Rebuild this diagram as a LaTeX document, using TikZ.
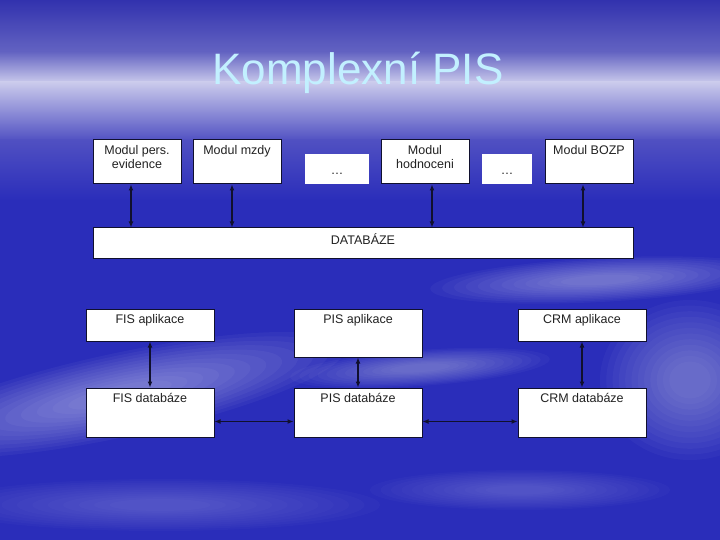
\documentclass[tikz,border=0pt]{standalone}
\usepackage{fontspec}
\setmainfont{Liberation Sans}
\usetikzlibrary{arrows.meta, positioning}
\definecolor{skytop}{HTML}{3232AE}
\definecolor{skymid}{HTML}{6464C2}
\definecolor{haze}{HTML}{CBCBEC}
\definecolor{skyblue}{HTML}{5050C2}
\definecolor{deepsky}{HTML}{2A2DBA}
\definecolor{titlecyan}{HTML}{C2F0FF}
\definecolor{boxline}{HTML}{10102E}
\definecolor{boxtext}{HTML}{222222}
% soft cloud streak: centre x, centre y, half width, half height, angle, strength
\newcommand\cloudstreak[6]{%
  \foreach \k in {1,0.93,...,0.2}
    \fill[white, opacity=#6, rotate around={#5:(#1,#2)}] (#1,#2) ellipse ({#3*\k} and {#4*\k});}

\begin{document}
\begin{tikzpicture}[x=1pt, y=-1pt,
    box/.style={draw=boxline, line width=1pt, fill=white, inner sep=0pt},
    lbl/.style={anchor=north, yshift=-6pt, inner sep=0pt, align=center, text=boxtext, font=\fontsize{12.5}{14}\selectfont},
    modul/.style={box, minimum width=88pt, minimum height=44pt, label={[lbl]north:{#1}}},
    dotbox/.style={fill=white, inner sep=0pt, minimum height=30pt, label={[lbl, anchor=center, yshift=1pt]center:\ldots}},
    app/.style={box, minimum width=128pt, label={[lbl]north:{#1}}},
    link/.style={{Latex[length=6pt,width=5pt]}-{Latex[length=6pt,width=5pt]}, line width=1.8pt, draw=boxline}]
  \useasboundingbox (0,0) rectangle (720,540);
  \clip (0,0) rectangle (720,540);
  \shade[top color=skytop, bottom color=skymid] (0,0) rectangle (720,53);
  \shade[top color=skymid, bottom color=haze] (0,52) rectangle (720,83);
  \shade[top color=haze, bottom color=skyblue] (0,82) rectangle (720,141);
  \shade[top color=skyblue, bottom color=deepsky] (0,140) rectangle (720,201);
  \fill[deepsky] (0,200) rectangle (720,540);
  \cloudstreak{600}{280}{170}{22}{3}{0.035}
  \cloudstreak{690}{380}{90}{80}{0}{0.03}
  \cloudstreak{120}{395}{230}{42}{12}{0.04}
  \cloudstreak{420}{368}{130}{18}{4}{0.03}
  \cloudstreak{160}{505}{220}{26}{0}{0.02}
  \cloudstreak{520}{490}{150}{20}{0}{0.018}

  \node[text=titlecyan, font=\fontsize{44}{44}\selectfont, anchor=base] (title) at (358,85) {Komplexní PIS};

  \node[modul={Modul pers.\\evidence}] (pers) at (137,162) {};
  \node[modul={Modul mzdy}] (mzdy) at (237,162) {};
  \node[dotbox, minimum width=64pt] (dots1) at (337,169) {};
  \node[modul={Modul\\hodnoceni}] (hodn) at (425,162) {};
  \node[dotbox, minimum width=50pt] (dots2) at (507,169) {};
  \node[modul={Modul BOZP}] (bozp) at (589,162) {};
  \node[box, minimum width=540pt, minimum height=30pt, label={[lbl]north:DATABÁZE}] (db) at (363,243) {};

  \draw[link] ([xshift=-6pt]pers.south) -- ([xshift=-6pt]pers.south |- db.north);
  \draw[link] ([xshift=-5pt]mzdy.south) -- ([xshift=-5pt]mzdy.south |- db.north);
  \draw[link] ([xshift=7pt]hodn.south) -- ([xshift=7pt]hodn.south |- db.north);
  \draw[link] ([xshift=-6pt]bozp.south) -- ([xshift=-6pt]bozp.south |- db.north);

  \node[app={FIS aplikace}, minimum height=32pt] (fisapp) at (150,325) {};
  \node[app={PIS aplikace}, minimum height=48pt] (pisapp) at (358,333) {};
  \node[app={CRM aplikace}, minimum height=32pt] (crmapp) at (582,325) {};
  \node[app={FIS databáze}, minimum height=49pt] (fisdb) at (150,412.5) {};
  \node[app={PIS databáze}, minimum height=49pt] (pisdb) at (358,412.5) {};
  \node[app={CRM databáze}, minimum height=49pt] (crmdb) at (582,412.5) {};

  \draw[link] (fisapp) -- (fisdb);
  \draw[link] (pisapp) -- (pisdb);
  \draw[link] (crmapp) -- (crmdb);
  \draw[link] ([yshift=-9pt]fisdb.east) -- ([yshift=-9pt]pisdb.west);
  \draw[link] ([yshift=-9pt]pisdb.east) -- ([yshift=-9pt]crmdb.west);
\end{tikzpicture}
\end{document}
